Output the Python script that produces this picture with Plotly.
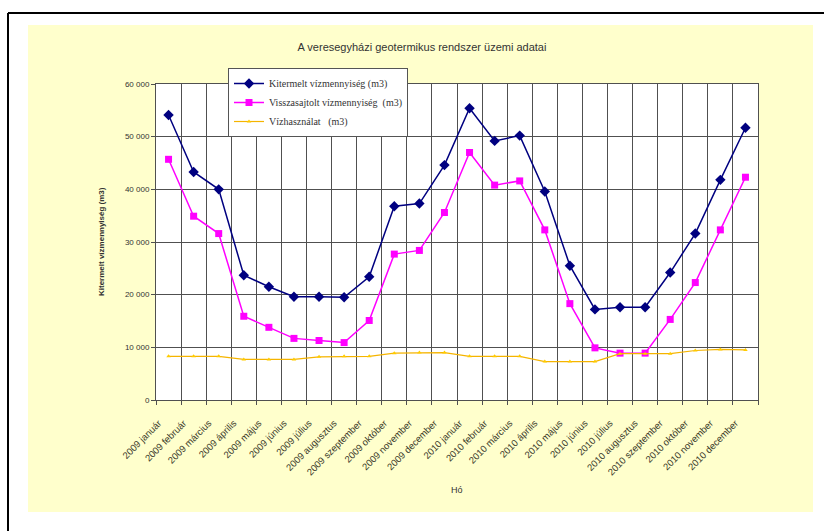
import plotly.graph_objects as go

honapok = ["január", "február", "március", "április", "május", "június", "július",
           "augusztus", "szeptember", "október", "november", "december"]
kategoriak = [f"{ev} {h}" for ev in (2009, 2010) for h in honapok]

kitermelt = [54100, 43300, 40000, 23700, 21500, 19600, 19600, 19500, 23400, 36800, 37300, 44600,
             55400, 49200, 50200, 39600, 25500, 17200, 17600, 17600, 24200, 31600, 41800, 51700]
visszasajtolt = [45700, 34900, 31600, 15900, 13800, 11700, 11300, 10900, 15100, 27700, 28400, 35600,
                 47000, 40800, 41600, 32300, 18300, 9900, 8900, 8900, 15300, 22300, 32300, 42300]
vizhasznalat = [8300, 8300, 8300, 7700, 7700, 7700, 8200, 8300, 8300, 8900, 9000, 9000,
                8300, 8300, 8300, 7300, 7300, 7300, 8800, 8800, 8800, 9400, 9600, 9500]

nevek = ["Kitermelt vízmennyiség (m3)", "Visszasajtolt vízmennyiség  (m3)", "Vízhasználat   (m3)"]

W, H = 824, 531
L, R, T, B = 156, 66, 84, 131
PW, PH = W - L - R, H - T - B


def px(x):
    return (x - L) / PW


def py(y):
    return (H - B - y) / PH


fig = go.Figure()
fig.add_trace(go.Scatter(x=kategoriak, y=kitermelt, name=nevek[0], mode="lines+markers",
                         line=dict(color="#000080", width=1.5),
                         marker=dict(symbol="diamond", size=8, color="#000080")))
fig.add_trace(go.Scatter(x=kategoriak, y=visszasajtolt, name=nevek[1], mode="lines+markers",
                         line=dict(color="#FF00FF", width=1.5),
                         marker=dict(symbol="square", size=7, color="#FF00FF")))
fig.add_trace(go.Scatter(x=kategoriak, y=vizhasznalat, name=nevek[2], mode="lines+markers",
                         line=dict(color="#F5B400", width=1.2),
                         marker=dict(symbol="triangle-up", size=4, color="#FFCC00")))

shapes = [
    dict(type="rect", xref="paper", yref="paper", x0=px(28), x1=px(813), y0=py(512), y1=py(25),
         fillcolor="#FFFFCC", line=dict(width=0), layer="below"),
    dict(type="rect", xref="paper", yref="paper", x0=0, x1=1, y0=0, y1=1,
         fillcolor="white", line=dict(width=0), layer="below"),
    dict(type="line", xref="paper", yref="paper", x0=px(8), x1=px(824), y0=py(13), y1=py(13),
         line=dict(color="black", width=2), layer="below"),
    dict(type="line", xref="paper", yref="paper", x0=px(8), x1=px(8), y0=py(13), y1=py(531),
         line=dict(color="black", width=2), layer="below"),
]

fig.update_layout(
    width=W, height=H,
    margin=dict(l=L, r=R, t=T, b=B, pad=0),
    paper_bgcolor="white", plot_bgcolor="white",
    separators=", ",
    font=dict(family="Liberation Sans, Arial", size=8, color="#333333"),
    title=dict(text="A veresegyházi geotermikus rendszer üzemi adatai",
               x=422 / W, xanchor="center", y=1 - 47 / H, yanchor="middle",
               font=dict(family="Liberation Sans, Arial", size=11, color="#333333")),
    showlegend=True,
    legend=dict(x=px(228), y=py(68), xanchor="left", yanchor="top",
                bgcolor="white", bordercolor="#555555", borderwidth=1,
                font=dict(family="Liberation Serif, Times New Roman", size=10, color="#333333"),
                tracegroupgap=0),
    shapes=shapes,
    annotations=[
        dict(text="Hó", xref="paper", yref="paper", x=0.5, y=py(490), yanchor="middle",
             showarrow=False, font=dict(size=9, color="#333333")),
        dict(text="<b>Kitermelt vízmennyiség (m3)</b>", xref="paper", yref="paper",
             x=px(101), y=0.5, xanchor="center", yanchor="middle", textangle=-90, showarrow=False,
             font=dict(size=8, color="#333333")),
    ],
)

fig.update_xaxes(type="category", tickson="boundaries", range=[-0.5, 23.5],
                 showgrid=True, gridcolor="#505050", gridwidth=1,
                 ticks="outside", ticklen=4, tickcolor="#505050",
                 tickangle=-45, tickfont=dict(size=9.5, color="#3a3a2a"),
                 ticklabelshift=-10, ticklabelstandoff=13,
                 showline=True, linecolor="#505050", linewidth=1, mirror=True)
fig.update_yaxes(range=[0, 60000], dtick=10000, tickformat=",d",
                 showgrid=True, gridcolor="#505050", gridwidth=1,
                 ticks="outside", ticklen=4, tickcolor="#505050",
                 tickfont=dict(size=8, color="#333333"), zeroline=False,
                 showline=True, linecolor="#505050", linewidth=1, mirror=True)

fig.write_html("out.html")
